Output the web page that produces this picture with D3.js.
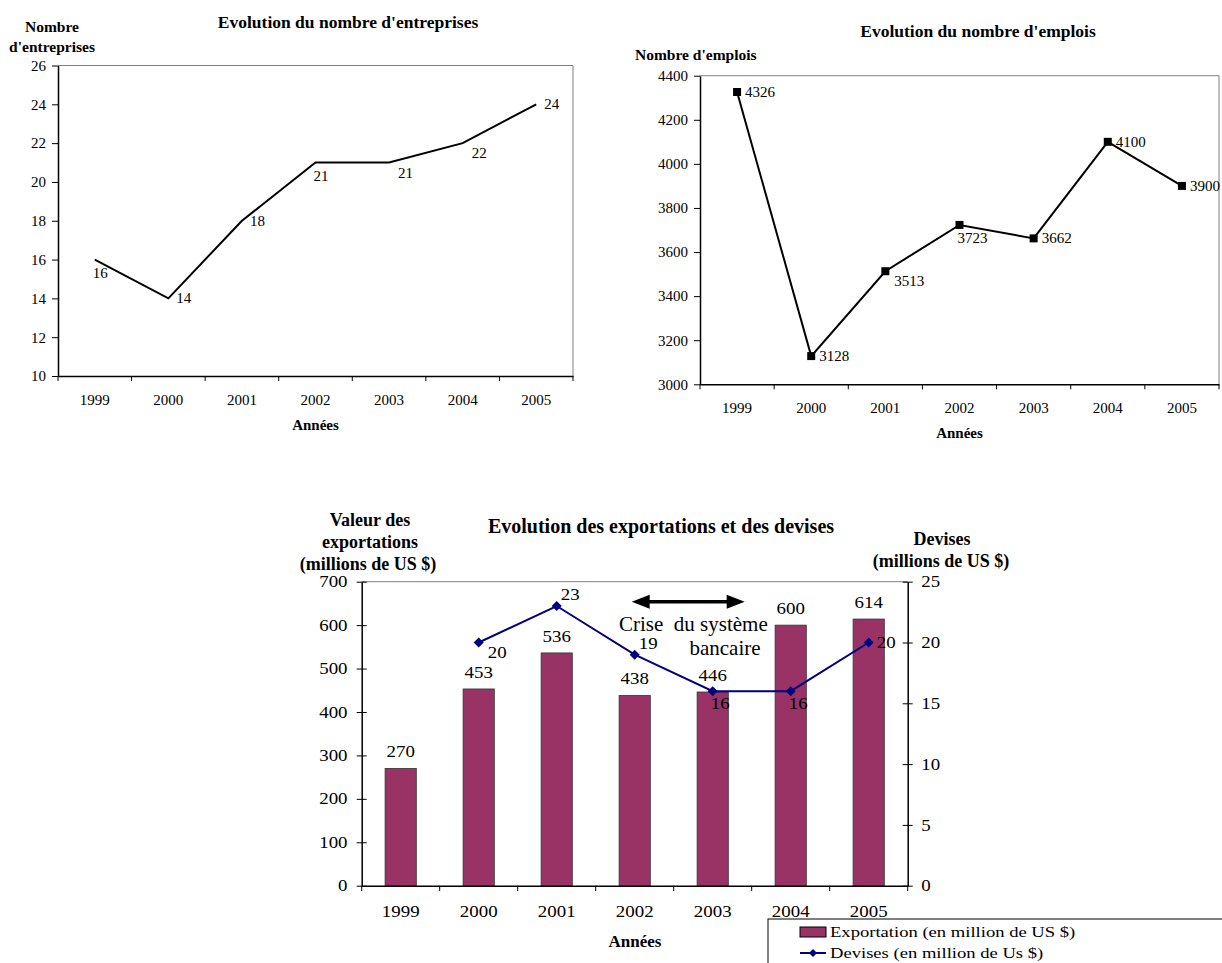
<!DOCTYPE html>
<meta charset="utf-8">
<script src="https://d3js.org/d3.v7.min.js"></script>
<style>
    body { margin: 0; background: #fff; }
    text { font-family: "Liberation Serif", "Times New Roman", serif; fill: #000; }
</style>
<div id="my_chart"></div>
<script>
    // data
    var years = ["1999", "2000", "2001", "2002", "2003", "2004", "2005"];
    var entreprises = [16, 14, 18, 21, 21, 22, 24];
    var entreprisesTicks = [10, 12, 14, 16, 18, 20, 22, 24, 26];
    var emplois = [4326, 3128, 3513, 3723, 3662, 4100, 3900];
    var emploisTicks = [3000, 3200, 3400, 3600, 3800, 4000, 4200, 4400];
    var exportations = [270, 453, 536, 438, 446, 600, 614];
    var exportTicks = [0, 100, 200, 300, 400, 500, 600, 700];
    var devises = [null, 20, 23, 19, 16, 16, 20];
    var devisesTicks = [0, 5, 10, 15, 20, 25];
    var crisisYears = ["2002", "2003"];

    // where each value label sits relative to its point
    var entLabelPos = ["below", "right", "right", "below", "belowright", "belowright", "right"];
    var empLabelPos = ["right", "right", "belowright", "below", "right", "right", "right"];
    var devLabelPos = [null, "belowright", "aboveright", "aboveright", "below", "below", "right"];
    var offsets = {
        right: [8, 5],
        below: [-2, 18],
        belowright: [9, 15],
        aboveright: [4, -6]
    };

    var serif = '"Liberation Serif", "Times New Roman", serif';
    var fmt = d3.format("d");

    var svg = d3.select("#my_chart").append("svg")
        .attr("width", 1222)
        .attr("height", 963);

    // text helper (sx stretches the glyphs horizontally)
    function label(g, x, y, txt, size, opts) {
        opts = opts || {};
        var sx = opts.sx || 1;
        return g.append("text")
            .attr("transform", "translate(" + x + "," + y + ") scale(" + sx + ",1)")
            .attr("text-anchor", opts.anchor || "start")
            .style("font-size", size + "px")
            .style("font-weight", opts.bold ? "bold" : "normal")
            .style("white-space", "pre")
            .text(txt);
    }

    // restyle a d3 axis group in the serif look
    function styleAxis(a, fs, sx) {
        a.attr("font-family", null).attr("font-size", null);
        a.select(".domain").attr("stroke", "#000").attr("stroke-width", 1.5);
        a.selectAll("text")
            .style("font-family", serif)
            .style("font-size", fs + "px")
            .attr("fill", "#000");
        if (sx) a.selectAll("text").attr("transform", "scale(" + sx + ",1)");
    }

    // frame + boundary ticks for the two top line charts
    function lineFrame(g, x, y, ticks, fs) {
        var x0 = x.range()[0], x1 = x.range()[1], y0 = y.range()[0], y1 = y.range()[1];
        g.append("line").attr("x1", x0).attr("x2", x1).attr("y1", y1).attr("y2", y1)
            .attr("stroke", "#808080").attr("stroke-width", 1);
        g.append("line").attr("x1", x1).attr("x2", x1).attr("y1", y1).attr("y2", y0)
            .attr("stroke", "#808080").attr("stroke-width", 1);

        g.append("g")
            .attr("transform", "translate(" + x0 + ",0)")
            .call(d3.axisLeft(y).tickValues(ticks).tickFormat(fmt).tickSize(6).tickPadding(6).tickSizeOuter(0))
            .call(a => styleAxis(a, fs));

        g.append("g")
            .attr("transform", "translate(0," + y0 + ")")
            .call(d3.axisBottom(x).tickSize(0).tickPadding(18).tickSizeOuter(0))
            .call(a => styleAxis(a, fs));

        var bounds = x.domain().map(d => x(d)).concat([x1]);
        g.selectAll(".bt").data(bounds).enter().append("line")
            .attr("x1", d => d).attr("x2", d => d)
            .attr("y1", y0).attr("y2", y0 + 5)
            .attr("stroke", "#000");
    }

    // ---------- chart 1 : nombre d'entreprises ----------
    var g1 = svg.append("g");
    var x1 = d3.scaleBand().domain(years).range([58, 573]);
    var y1 = d3.scaleLinear().domain([10, 26]).range([376, 65.5]);
    lineFrame(g1, x1, y1, entreprisesTicks, 15);

    var ent = years.map((d, i) => ({ year: d, value: entreprises[i], pos: entLabelPos[i] }));
    g1.append("path")
        .datum(ent)
        .attr("fill", "none")
        .attr("stroke", "#000")
        .attr("stroke-width", 2)
        .attr("d", d3.line()
            .x(d => x1(d.year) + x1.bandwidth() / 2)
            .y(d => y1(d.value)));
    ent.forEach(function(d) {
        var o = offsets[d.pos];
        label(g1, x1(d.year) + x1.bandwidth() / 2 + o[0], y1(d.value) + o[1], d.value, 15);
    });

    label(g1, 348, 28, "Evolution du nombre d'entreprises", 17.5, { anchor: "middle", bold: true });
    label(g1, 52, 32, "Nombre", 15.5, { anchor: "middle", bold: true });
    label(g1, 52, 52, "d'entreprises", 15.5, { anchor: "middle", bold: true });
    label(g1, 315.5, 430, "Années", 15, { anchor: "middle", bold: true });

    // ---------- chart 2 : nombre d'emplois ----------
    var g2 = svg.append("g");
    var x2 = d3.scaleBand().domain(years).range([700, 1219]);
    var y2 = d3.scaleLinear().domain([3000, 4400]).range([384.3, 75.7]);
    lineFrame(g2, x2, y2, emploisTicks, 15);

    var emp = years.map((d, i) => ({ year: d, value: emplois[i], pos: empLabelPos[i] }));
    g2.append("path")
        .datum(emp)
        .attr("fill", "none")
        .attr("stroke", "#000")
        .attr("stroke-width", 2)
        .attr("d", d3.line()
            .x(d => x2(d.year) + x2.bandwidth() / 2)
            .y(d => y2(d.value)));
    g2.selectAll(".sq").data(emp).enter().append("rect")
        .attr("x", d => x2(d.year) + x2.bandwidth() / 2 - 4)
        .attr("y", d => y2(d.value) - 4)
        .attr("width", 8)
        .attr("height", 8)
        .attr("fill", "#000");
    emp.forEach(function(d) {
        var o = offsets[d.pos];
        label(g2, x2(d.year) + x2.bandwidth() / 2 + o[0], y2(d.value) + o[1], d.value, 15);
    });

    label(g2, 978, 37, "Evolution du nombre d'emplois", 17.5, { anchor: "middle", bold: true });
    label(g2, 635, 60, "Nombre d'emplois", 15.5, { bold: true });
    label(g2, 959.5, 438, "Années", 15, { anchor: "middle", bold: true });

    // ---------- chart 3 : exportations et devises ----------
    var g3 = svg.append("g");
    var SX = 1.18;
    var x3 = d3.scaleBand().domain(years).range([361.7, 907.7]);
    var yL = d3.scaleLinear().domain([0, 700]).range([885.7, 581.7]);
    var yR = d3.scaleLinear().domain([0, 25]).range([885.7, 581.7]);
    var bw = x3.bandwidth();
    var cx = d => x3(d) + bw / 2;

    // top border
    g3.append("line").attr("x1", 361.7).attr("x2", 907.7).attr("y1", 581.7).attr("y2", 581.7)
        .attr("stroke", "#808080");

    // bars
    var exp = years.map((d, i) => ({ year: d, value: exportations[i] }));
    g3.selectAll(".bar").data(exp).enter().append("rect")
        .attr("x", d => cx(d.year) - bw * 0.2)
        .attr("y", d => yL(d.value))
        .attr("width", bw * 0.4)
        .attr("height", d => yL(0) - yL(d.value))
        .attr("fill", "#993366")
        .attr("stroke", "#333")
        .attr("stroke-width", 0.8);
    exp.forEach(function(d) {
        label(g3, cx(d.year), yL(d.value) - 11, d.value, 16, { anchor: "middle", sx: SX });
    });

    // axes
    g3.append("g")
        .attr("transform", "translate(361.7,0)")
        .call(d3.axisLeft(yL).tickValues(exportTicks).tickFormat(fmt).tickSize(5).tickPadding(7).tickSizeOuter(0))
        .call(a => a.selectAll(".tick line").attr("x1", 5))
        .call(a => styleAxis(a, 16, SX));
    g3.append("g")
        .attr("transform", "translate(907.7,0)")
        .call(d3.axisRight(yR).tickValues(devisesTicks).tickFormat(fmt).tickSize(5).tickPadding(6.5).tickSizeOuter(0))
        .call(a => a.selectAll(".tick line").attr("x1", -5))
        .call(a => styleAxis(a, 16, SX));
    g3.append("g")
        .attr("transform", "translate(0,885.7)")
        .call(d3.axisBottom(x3).tickSize(0).tickPadding(20).tickSizeOuter(0))
        .call(a => styleAxis(a, 16, SX));
    var bounds3 = years.map(d => x3(d)).concat([x3.range()[1]]);
    g3.selectAll(".bt").data(bounds3).enter().append("line")
        .attr("x1", d => d).attr("x2", d => d)
        .attr("y1", 885.7).attr("y2", 891)
        .attr("stroke", "#000");

    // devises line
    var dev = years.map((d, i) => ({ year: d, value: devises[i], pos: devLabelPos[i] }))
        .filter(d => d.value !== null);
    g3.append("path")
        .datum(dev)
        .attr("fill", "none")
        .attr("stroke", "#000080")
        .attr("stroke-width", 2)
        .attr("d", d3.line().x(d => cx(d.year)).y(d => yR(d.value)));
    g3.selectAll(".dm").data(dev).enter().append("path")
        .attr("transform", d => "translate(" + cx(d.year) + "," + yR(d.value) + ")")
        .attr("d", "M0,-5L5,0L0,5L-5,0Z")
        .attr("fill", "#000080");
    dev.forEach(function(d) {
        var o = offsets[d.pos];
        label(g3, cx(d.year) + o[0], yR(d.value) + o[1], d.value, 16, { sx: SX });
    });

    // crisis arrow
    var ax0 = cx(crisisYears[0]) - 3, ax1 = cx(crisisYears[1]) + 32, ay = 601.7;
    g3.append("line").attr("x1", ax0 + 12).attr("x2", ax1 - 12).attr("y1", ay).attr("y2", ay)
        .attr("stroke", "#000").attr("stroke-width", 3.5);
    g3.append("path")
        .attr("d", "M" + ax0 + "," + ay + "L" + (ax0 + 18) + "," + (ay - 7) + "L" + (ax0 + 18) + "," + (ay + 7) + "Z")
        .attr("fill", "#000");
    g3.append("path")
        .attr("d", "M" + ax1 + "," + ay + "L" + (ax1 - 18) + "," + (ay - 7) + "L" + (ax1 - 18) + "," + (ay + 7) + "Z")
        .attr("fill", "#000");
    label(g3, 619, 631, "Crise  du système", 21);
    label(g3, 725, 655, "bancaire", 21, { anchor: "middle" });

    // titles
    label(g3, 661, 533, "Evolution des exportations et des devises", 20, { anchor: "middle", bold: true });
    label(g3, 370, 526, "Valeur des", 18, { anchor: "middle", bold: true });
    label(g3, 370, 548, "exportations", 18, { anchor: "middle", bold: true });
    label(g3, 368, 570, "(millions de US $)", 18, { anchor: "middle", bold: true });
    label(g3, 942, 545, "Devises", 18, { anchor: "middle", bold: true });
    label(g3, 941, 567, "(millions de US $)", 18, { anchor: "middle", bold: true });
    label(g3, 635, 947, "Années", 17, { anchor: "middle", bold: true });

    // legend
    var lg = svg.append("g");
    lg.append("rect").attr("x", 768).attr("y", 919).attr("width", 500).attr("height", 100)
        .attr("fill", "#fff").attr("stroke", "#000").attr("stroke-width", 1);
    lg.append("rect").attr("x", 800).attr("y", 927).attr("width", 26).attr("height", 10)
        .attr("fill", "#993366").attr("stroke", "#000").attr("stroke-width", 1);
    label(lg, 830, 937, "Exportation (en million de US $)", 15.5, { sx: 1.2 });
    lg.append("line").attr("x1", 800).attr("x2", 826).attr("y1", 953).attr("y2", 953)
        .attr("stroke", "#000080").attr("stroke-width", 2);
    lg.append("path").attr("transform", "translate(813,953)")
        .attr("d", "M0,-4L4,0L0,4L-4,0Z").attr("fill", "#000080");
    label(lg, 830, 958, "Devises (en million de Us $)", 15.5, { sx: 1.2 });
</script>
